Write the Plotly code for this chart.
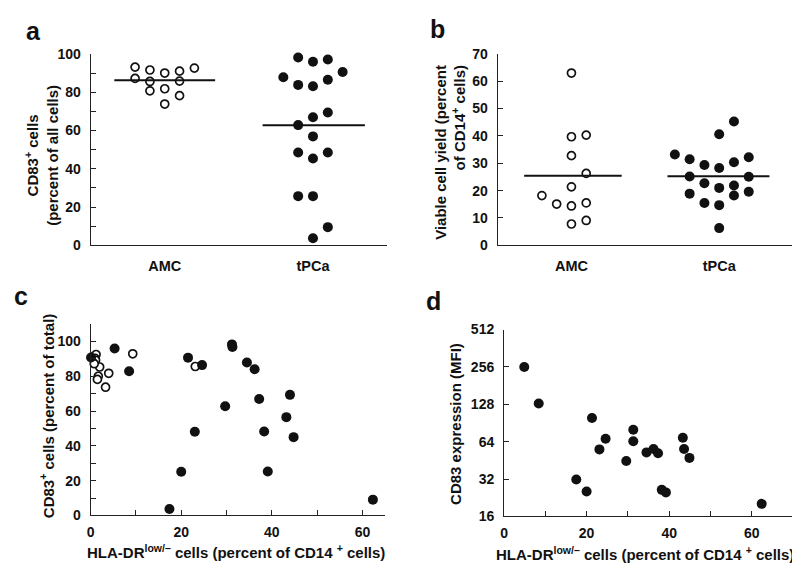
import plotly.graph_objects as go

W, H = 800, 566

# ---------------- data ----------------
categories = ["AMC", "tPCa"]

# Panel a: CD83+ cells (percent of all cells)
a_amc_values = [93.1, 91.6, 90.0, 91.0, 92.6, 87.2, 85.6, 85.8, 80.7, 81.8, 78.2, 73.8]
a_amc_jitter = [-0.2, -0.1, 0.0, 0.1, 0.2, -0.2, -0.1, 0.1, -0.1, 0.0, 0.1, 0.0]
a_tpca_values = [98.1, 95.9, 97.1, 87.8, 83.8, 83.1, 86.5, 90.5, 62.8, 66.9, 69.4,
                 56.9, 48.5, 45.4, 48.5, 25.7, 25.7, 9.5, 3.7]
a_tpca_jitter = [-0.1, 0.0, 0.1, -0.2, -0.1, 0.0, 0.1, 0.2, -0.1, 0.0, 0.1,
                 0.0, -0.1, 0.0, 0.1, -0.1, 0.0, 0.1, 0.0]
a_center_lines = [86.3, 62.7]

# Panel b: viable cell yield (percent of CD14+ cells)
b_amc_values = [63.0, 39.7, 40.3, 32.8, 26.3, 21.4, 18.2, 15.1, 14.4, 15.5, 7.8, 9.1]
b_amc_jitter = [0.0, 0.0, 0.1, 0.0, 0.1, 0.0, -0.2, -0.1, 0.0, 0.1, 0.0, 0.1]
b_tpca_values = [45.3, 40.6, 33.2, 31.5, 29.4, 28.3, 30.4, 32.2, 25.2, 22.7, 21.0,
                 21.9, 25.1, 18.9, 18.2, 19.6, 15.5, 14.7, 6.3]
b_tpca_jitter = [0.1, 0.0, -0.3, -0.2, -0.1, 0.0, 0.1, 0.2, -0.2, -0.1, 0.0,
                 0.1, 0.2, -0.2, 0.1, 0.2, -0.1, 0.0, 0.0]
b_center_lines = [25.4, 25.3]

# Panel c: HLA-DR low/- vs CD83+ cells
c_amc_x = [0.4, 1.2, 1.0, 1.1, 2.0, 4.0, 1.7, 1.5, 3.3, 9.3, 23.1, 0.8]
c_amc_y = [91.0, 92.5, 90.3, 89.2, 85.3, 81.7, 80.0, 78.2, 73.7, 92.9, 85.6, 87.2]
c_tpca_x = [0.1, 5.3, 8.5, 21.5, 24.6, 31.2, 31.3, 34.5, 36.2, 37.2, 29.7, 23.0,
            38.3, 44.0, 43.2, 44.8, 20.0, 39.1, 17.4, 62.3]
c_tpca_y = [90.8, 95.9, 82.9, 90.7, 86.4, 98.3, 96.8, 87.9, 84.0, 66.9, 62.8, 48.1,
            48.3, 69.3, 56.5, 45.0, 25.1, 25.3, 3.7, 9.1]

# Panel d: HLA-DR low/- vs CD83 expression (MFI)
d_x = [4.9, 8.4, 17.5, 20.0, 21.3, 23.1, 24.6, 29.6, 31.3, 31.3, 34.5, 36.2,
       37.3, 38.2, 39.2, 43.3, 43.6, 44.9, 62.4]
d_y = [256, 130, 31.7, 25.4, 99.3, 55.5, 67.6, 44.7, 80.0, 64.5, 52.5, 55.8,
       51.6, 26.2, 25.0, 68.9, 55.8, 47.4, 20.2]

# tick labels
a_yticks = [0, 20, 40, 60, 80, 100]
b_yticks = [0, 10, 20, 30, 40, 50, 60, 70]
c_xticks = [0, 20, 40, 60]
c_yticks = [0, 20, 40, 60, 80, 100]
d_xticks = [0, 20, 40, 60]
d_yticks = [16, 32, 64, 128, 256, 512]

# ---------------- styling helpers ----------------
FONT = "Liberation Sans, Arial, sans-serif"
INK = "#111111"

def px(x):
    return x / W

def py(y):
    return 1 - y / H

open_marker = dict(symbol="circle", size=8, color="white", line=dict(color=INK, width=1.7))
filled_marker = dict(symbol="circle", size=10, color=INK, line=dict(width=0))

fig = go.Figure()

def add_pts(x, y, xa, ya, marker):
    fig.add_trace(go.Scatter(x=x, y=y, mode="markers", marker=marker,
                             xaxis=xa, yaxis=ya, cliponaxis=False,
                             showlegend=False, hoverinfo="skip"))

def add_hline(cx, val, xa, ya, half):
    fig.add_trace(go.Scatter(x=[cx - half[0], cx + half[1]], y=[val, val], mode="lines",
                             line=dict(color=INK, width=2), xaxis=xa, yaxis=ya,
                             showlegend=False, hoverinfo="skip"))

# Panel a
add_pts([1 + j for j in a_amc_jitter], a_amc_values, "x", "y", open_marker)
add_pts([2 + j for j in a_tpca_jitter], a_tpca_values, "x", "y", filled_marker)
add_hline(1, a_center_lines[0], "x", "y", (0.34, 0.34))
add_hline(2, a_center_lines[1], "x", "y", (0.34, 0.35))

# Panel b
add_pts([1 + j for j in b_amc_jitter], b_amc_values, "x2", "y2", open_marker)
add_pts([2 + j for j in b_tpca_jitter], b_tpca_values, "x2", "y2", filled_marker)
add_hline(1, b_center_lines[0], "x2", "y2", (0.32, 0.34))
add_hline(2, b_center_lines[1], "x2", "y2", (0.35, 0.34))

# Panel c
add_pts(c_amc_x, c_amc_y, "x3", "y3", open_marker)
add_pts(c_tpca_x, c_tpca_y, "x3", "y3", filled_marker)

# Panel d
add_pts(d_x, d_y, "x4", "y4", filled_marker)

tickfont = dict(family=FONT, size=14, color=INK, weight="bold")
catfont = dict(family=FONT, size=14.5, color=INK, weight="bold")

def base_axis(**kw):
    d = dict(showline=True, linecolor="#222222", linewidth=1, showgrid=False,
             zeroline=False, ticks="inside", ticklen=5, tickcolor="#222222",
             tickwidth=1, tickfont=tickfont, fixedrange=True)
    d.update(kw)
    return d

fig.update_layout(
    width=W, height=H,
    margin=dict(l=0, r=0, t=0, b=0),
    paper_bgcolor="white", plot_bgcolor="white",
    showlegend=False,
    # panel a
    xaxis=base_axis(domain=[px(79), px(377)], range=[0.5, 2.5], anchor="y",
                    tickvals=[1, 2], ticktext=categories, ticks="",
                    tickfont=catfont, ticklabelstandoff=7),
    yaxis=base_axis(domain=[py(236), py(39)], range=[0, 100], anchor="x",
                    tickvals=a_yticks, ticklabelstandoff=6,
                    minor=dict(tickvals=[10, 30, 50, 70, 90], ticks="inside",
                               ticklen=5, tickcolor="#222222")),
    # panel b
    xaxis2=base_axis(domain=[px(488), px(785)], range=[0.5, 2.5], anchor="y2",
                     tickvals=[1, 2], ticktext=categories, ticks="",
                     tickfont=catfont, ticklabelstandoff=7),
    yaxis2=base_axis(domain=[py(236), py(39)], range=[0, 70], anchor="x2",
                     tickvals=b_yticks, ticklabelstandoff=6),
    # panel c
    xaxis3=base_axis(domain=[px(79), px(375)], range=[0, 65], anchor="y3",
                     tickvals=c_xticks, ticklabelstandoff=4,
                     minor=dict(tickvals=[10, 30, 50], ticks="inside",
                                ticklen=5, tickcolor="#222222")),
    yaxis3=base_axis(domain=[py(514), py(317)], range=[0, 110], anchor="x3",
                     tickvals=c_yticks, ticklabelstandoff=6,
                     minor=dict(tickvals=[10, 30, 50, 70, 90], ticks="inside",
                                ticklen=5, tickcolor="#222222")),
    # panel d
    xaxis4=base_axis(domain=[px(494.5), px(785)], range=[0, 70], anchor="y4",
                     tickvals=d_xticks, ticklabelstandoff=4,
                     minor=dict(tickvals=[10, 30, 50, 70], ticks="inside",
                                ticklen=5, tickcolor="#222222")),
    yaxis4=base_axis(domain=[py(515), py(322.7)], type="log",
                     range=[1.2041, 2.7093], anchor="x4",
                     tickvals=d_yticks, ticktext=[str(v) for v in d_yticks],
                     ticklabelstandoff=6),
)

ytitlefont = dict(family=FONT, size=15, color=INK, weight="bold")
xtitlefont = dict(family=FONT, size=15, color=INK, weight="bold")
letterfont = dict(family=FONT, size=25, color=INK, weight="bold")

def ann(text, x, y, font, angle=0, align="center"):
    fig.add_annotation(text=text, x=px(x), y=py(y), xref="paper", yref="paper",
                       showarrow=False, font=font, textangle=angle, align=align,
                       xanchor="center", yanchor="middle")

# panel letters
ann("a", 22, 15, letterfont)
ann("b", 428, 13, letterfont)
ann("c", 9, 288, letterfont)
ann("d", 424, 293, letterfont)

# axis titles
ann("CD83<sup>+</sup> cells<br>(percent of all cells)", 30, 143, ytitlefont, angle=-90)
ann("Viable cell yield (percent<br>of CD14<sup>+</sup> cells)", 440, 140, ytitlefont,
    angle=-90, align="right")
ann("CD83<sup>+</sup> cells (percent of total)", 35, 411, ytitlefont, angle=-90)
ann("HLA-DR<sup>low/–</sup> cells (percent of CD14 <sup>+</sup> cells)",
    225, 551, xtitlefont)
ann("CD83 expression (MFI)", 445, 420, ytitlefont, angle=-90)
ann("HLA-DR<sup>low/–</sup> cells (percent of CD14 <sup>+</sup> cells)",
    636, 553, xtitlefont)

fig.write_html("out.html")
